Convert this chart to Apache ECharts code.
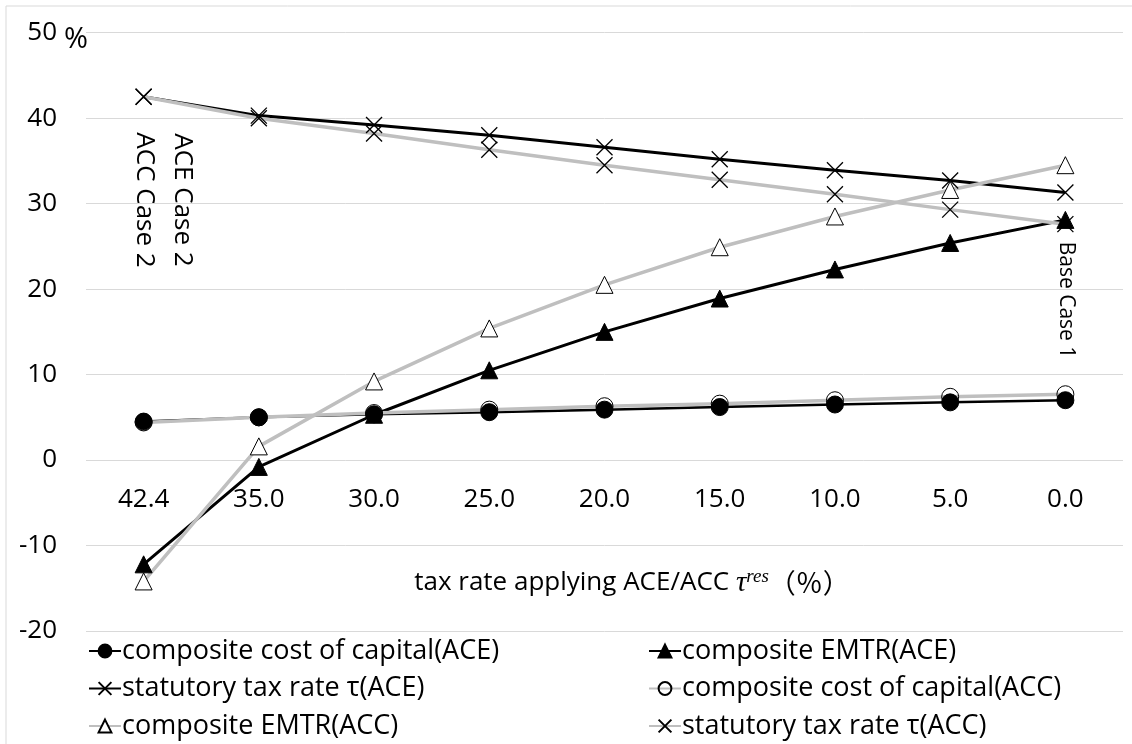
<!DOCTYPE html>
<html>
<head>
<meta charset="utf-8">
<title>ACE / ACC</title>
<script src="https://cdn.jsdelivr.net/npm/echarts@6/dist/echarts.min.js"></script>
<style>
  html, body { margin: 0; padding: 0; background: #fff; }
  #chart { width: 1132px; height: 744px; }
</style>
</head>
<body>
<div id="chart"></div>
<script>
// tax rate applying ACE/ACC (x axis categories)
var categories = ['42.4', '35.0', '30.0', '25.0', '20.0', '15.0', '10.0', '5.0', '0.0'];
var yTicks = { min: -20, max: 50, step: 10 };

var costAce = [4.5, 5.0, 5.35, 5.6, 5.9, 6.2, 6.5, 6.75, 7.0];
var emtrAce = [-12.2, -0.8, 5.3, 10.5, 15.0, 18.9, 22.3, 25.4, 28.1];
var tauAce = [42.5, 40.3, 39.2, 38.0, 36.6, 35.2, 33.9, 32.7, 31.3];
var costAcc = [4.4, 5.0, 5.5, 5.9, 6.3, 6.6, 7.0, 7.4, 7.7];
var emtrAcc = [-14.2, 1.6, 9.2, 15.4, 20.5, 24.9, 28.5, 31.6, 34.5];
var tauAcc = [42.5, 40.0, 38.2, 36.3, 34.5, 32.8, 31.1, 29.3, 27.6];

var names = [
  'composite cost of capital(ACE)',
  'composite EMTR(ACE)',
  'statutory tax rate τ(ACE)',
  'composite cost of capital(ACC)',
  'composite EMTR(ACC)',
  'statutory tax rate τ(ACC)'
];

var FONT = '"Open Sans", "Noto Sans CJK SC", sans-serif';
var GREY = '#bfbfbf';
var CROSS = 'path://M0,0L10,10M10,0L0,10';

function lineSeries(name, data, lineColor, lineWidth, symbol, size, fill) {
  return {
    name: name,
    type: 'line',
    data: data,
    symbol: symbol,
    symbolSize: size,
    lineStyle: { color: lineColor, width: lineWidth },
    itemStyle: { color: fill, borderColor: '#000', borderWidth: symbol === CROSS ? 1.3 : 1 },
    emphasis: { disabled: true }
  };
}

function legendBlock(items, left) {
  return {
    data: items,
    orient: 'vertical',
    left: left,
    top: 636,
    height: 120,
    padding: 0,
    itemWidth: 32,
    itemHeight: 16,
    itemGap: 7.5,
    selectedMode: false,
    textStyle: { fontFamily: FONT, fontSize: 27, lineHeight: 30, color: '#000', padding: [0, 0, 0, -4] }
  };
}

function vText(text, x, y, size) {
  return {
    type: 'text',
    x: x,
    y: y,
    rotation: -Math.PI / 2,
    style: { text: text, fill: '#000', font: size + 'px ' + FONT, align: 'center', verticalAlign: 'middle' }
  };
}

var chart = echarts.init(document.getElementById('chart'));

var option = {
  animation: false,
  backgroundColor: '#fff',
  grid: { left: 86, right: 9, top: 32.7, bottom: 113 },
  xAxis: {
    type: 'category',
    data: categories,
    boundaryGap: true,
    // labels sit just under the zero line, inside the plot
    axisLine: { show: false, onZero: false },
    axisTick: { show: false },
    axisLabel: { fontFamily: FONT, fontSize: 26, color: '#000', margin: -144 }
  },
  yAxis: {
    type: 'value',
    min: yTicks.min,
    max: yTicks.max,
    interval: yTicks.step,
    axisLine: { show: false },
    axisTick: { show: false },
    splitLine: { lineStyle: { color: '#d9d9d9', width: 1 } },
    axisLabel: { fontFamily: FONT, fontSize: 26, color: '#000', margin: 29 }
  },
  legend: [
    legendBlock([names[0], names[2], names[4]], 88),
    legendBlock([names[1], names[3], names[5]], 648)
  ],
  series: [
    lineSeries(names[0], costAce, '#000', 2.5, 'circle', 17, '#000'),
    lineSeries(names[1], emtrAce, '#000', 3, 'triangle', 17, '#000'),
    lineSeries(names[2], tauAce, '#000', 3, CROSS, 16, '#000'),
    lineSeries(names[3], costAcc, GREY, 3.5, 'circle', 17, 'rgba(255,255,255,0)'),
    lineSeries(names[4], emtrAcc, GREY, 3.5, 'triangle', 17, '#fff'),
    lineSeries(names[5], tauAcc, GREY, 3.5, CROSS, 16, '#000')
  ],
  graphic: [
    // chart frame (top and left edges only are visible)
    { type: 'line', shape: { x1: 6, y1: 6, x2: 1132, y2: 6 }, style: { stroke: '#d9d9d9', lineWidth: 1 } },
    { type: 'line', shape: { x1: 6, y1: 6, x2: 6, y2: 744 }, style: { stroke: '#d9d9d9', lineWidth: 1 } },
    // unit next to the top tick
    { type: 'text', x: 64, y: 40, style: { text: '%', fill: '#000', font: '29px ' + FONT, verticalAlign: 'middle' } },
    vText('ACC Case 2', 144, 200, 26),
    vText('ACE Case 2', 182, 200, 26),
    vText('Base Case 1', 1066, 300, 21),
    {
      type: 'text',
      x: 632,
      y: 583,
      style: {
        text: '{a|tax rate applying ACE/ACC }{t|τ}{s|res}{p|（％）}',
        align: 'center',
        verticalAlign: 'middle',
        fill: '#000',
        rich: {
          a: { fontFamily: FONT, fontSize: 26, lineHeight: 32, fill: '#000' },
          t: { fontFamily: '"Liberation Serif", serif', fontStyle: 'italic', fontSize: 29, lineHeight: 32, fill: '#000' },
          s: { fontFamily: '"Liberation Serif", serif', fontStyle: 'italic', fontSize: 19, lineHeight: 32, verticalAlign: 'top', fill: '#000' },
          p: { fontFamily: '"Noto Sans CJK SC", sans-serif', fontSize: 27, lineHeight: 32, fill: '#000' }
        }
      }
    }
  ]
};

chart.setOption(option);
</script>
</body>
</html>
